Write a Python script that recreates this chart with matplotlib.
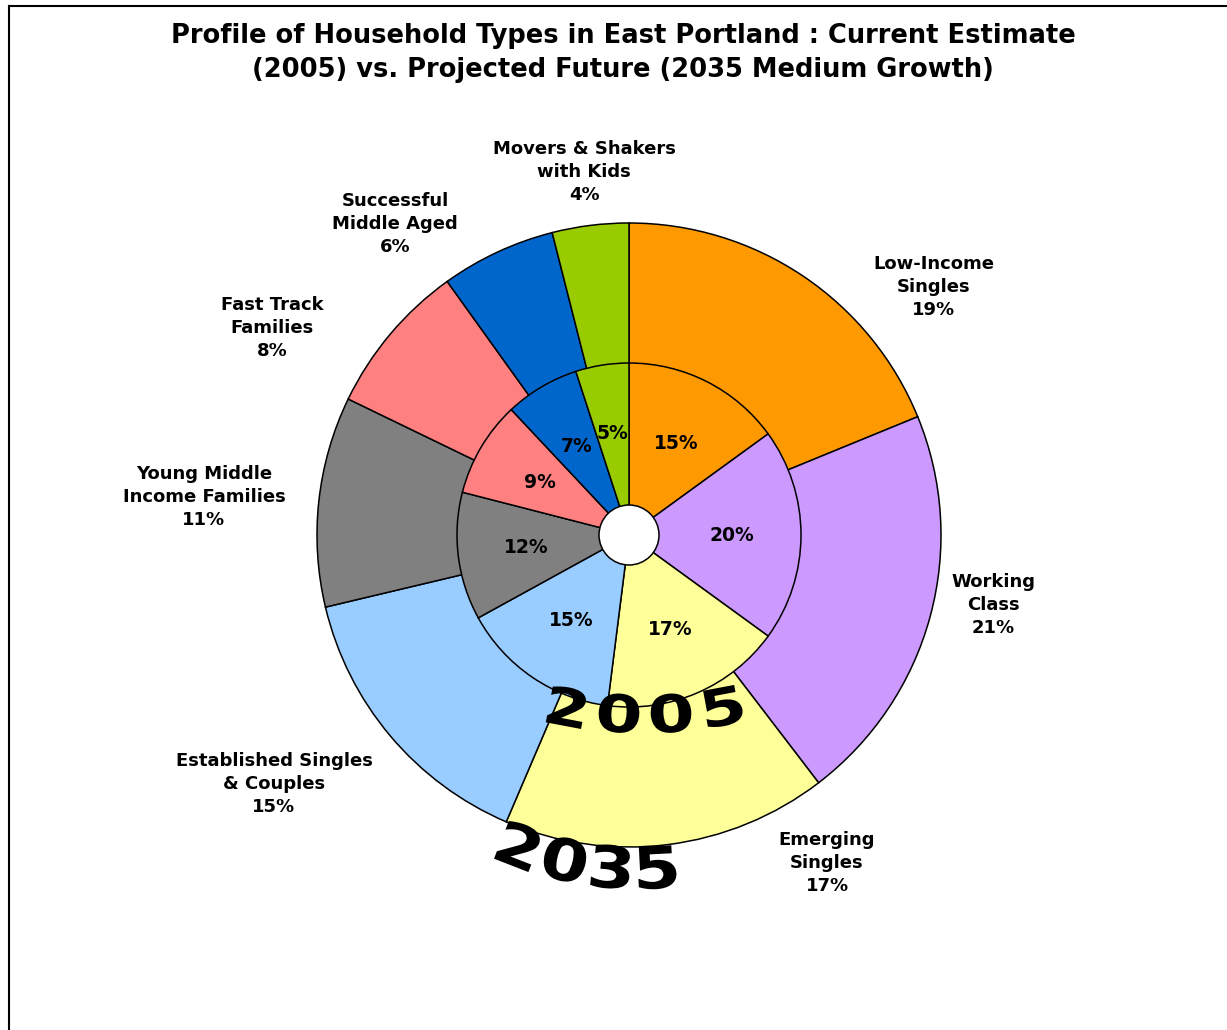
import numpy as np
import matplotlib
matplotlib.use("Agg")
import matplotlib.pyplot as plt
from matplotlib.patches import Circle, PathPatch
from matplotlib.lines import Line2D
from matplotlib.textpath import TextPath
from matplotlib.font_manager import FontProperties
from matplotlib.transforms import Affine2D

W, H = 1227, 1030

categories = ['Low-Income\nSingles', 'Working\nClass', 'Emerging\nSingles',
              'Established Singles\n& Couples', 'Young Middle\nIncome Families',
              'Fast Track\nFamilies', 'Successful\nMiddle Aged',
              'Movers & Shakers\nwith Kids']
values_2035 = [19, 21, 17, 15, 11, 8, 6, 4]
values_2005 = [15, 20, 17, 15, 12, 9, 7, 5]
colors = ['#FF9900', '#CC99FF', '#FFFF99', '#99CCFF',
          '#808080', '#FF8080', '#0066CC', '#99CC00']

# label anchor points in picture pixels (x, y from top)
label_pos = [(934, 287), (993, 605), (827, 863), (274, 784),
             (204, 497), (272, 328), (395, 224), (584, 172)]

CX, CY = 629, H - 535
R_OUT, R_IN, R_HOLE = 312, 172, 30

fig = plt.figure(figsize=(W / 100, H / 100), dpi=100)
ax = fig.add_axes([0, 0, 1, 1])

ax.pie(values_2035, colors=colors, startangle=90, counterclock=False,
       center=(CX, CY), radius=R_OUT,
       wedgeprops=dict(edgecolor='black', linewidth=1.1))
ax.pie(values_2005, colors=colors, startangle=90, counterclock=False,
       center=(CX, CY), radius=R_IN,
       labels=[f'{v}%' for v in values_2005], labeldistance=0.6,
       textprops=dict(fontsize=13.5, fontweight='bold', ha='center', va='center'),
       wedgeprops=dict(edgecolor='black', linewidth=1.1))
ax.add_patch(Circle((CX, CY), R_HOLE, facecolor='white', edgecolor='black', lw=1.1, zorder=5))

for name, v, (px, py) in zip(categories, values_2035, label_pos):
    ax.text(px, H - py, f'{name}\n{v}%', ha='center', va='center',
            fontsize=13, fontweight='bold', linespacing=1.35)

fp = FontProperties(family='DejaVu Sans', weight='bold')


def arc_text(s, acx, apex_y, r, x_first, step, size, sx):
    # wordart style: glyphs sit on an arc bulging downward, tops toward arc centre
    acy = H - apex_y + r
    for i, ch in enumerate(s):
        dx = x_first + i * step - acx
        th = np.arcsin(dx / r)
        px = acx + r * np.sin(th)
        py = acy - r * np.cos(th)
        tp = TextPath((0, 0), ch, size=size, prop=fp)
        bb = tp.get_extents()
        tr = (Affine2D().translate(-(bb.x0 + bb.x1) / 2, -(bb.y0 + bb.y1) / 2)
              .scale(sx, 1).rotate(th).translate(px, py))
        ax.add_patch(PathPatch(tr.transform_path(tp), facecolor='black',
                               edgecolor='none', zorder=6))


arc_text('2005', 645, 714, 420, 567, 52, 52, 1.3)
arc_text('2035', 640, 868, 334, 519, 46, 58, 1.2)

ax.set_xlim(0, W)
ax.set_ylim(0, H)
ax.set_aspect('equal')
ax.axis('off')

fig.text(623 / W, 1 - 53 / H,
         'Profile of Household Types in East Portland : Current Estimate\n'
         '(2005) vs. Projected Future (2035 Medium Growth)',
         ha='center', va='center', fontsize=18.5, fontweight='bold', linespacing=1.36)

fig.add_artist(Line2D([9 / W, 9 / W], [0, 1 - 6 / H], color='black', lw=1.5,
                      transform=fig.transFigure))
fig.add_artist(Line2D([9 / W, 1], [1 - 6 / H, 1 - 6 / H], color='black', lw=1.5,
                      transform=fig.transFigure))

fig.savefig('out.png', dpi=100, facecolor='white')
